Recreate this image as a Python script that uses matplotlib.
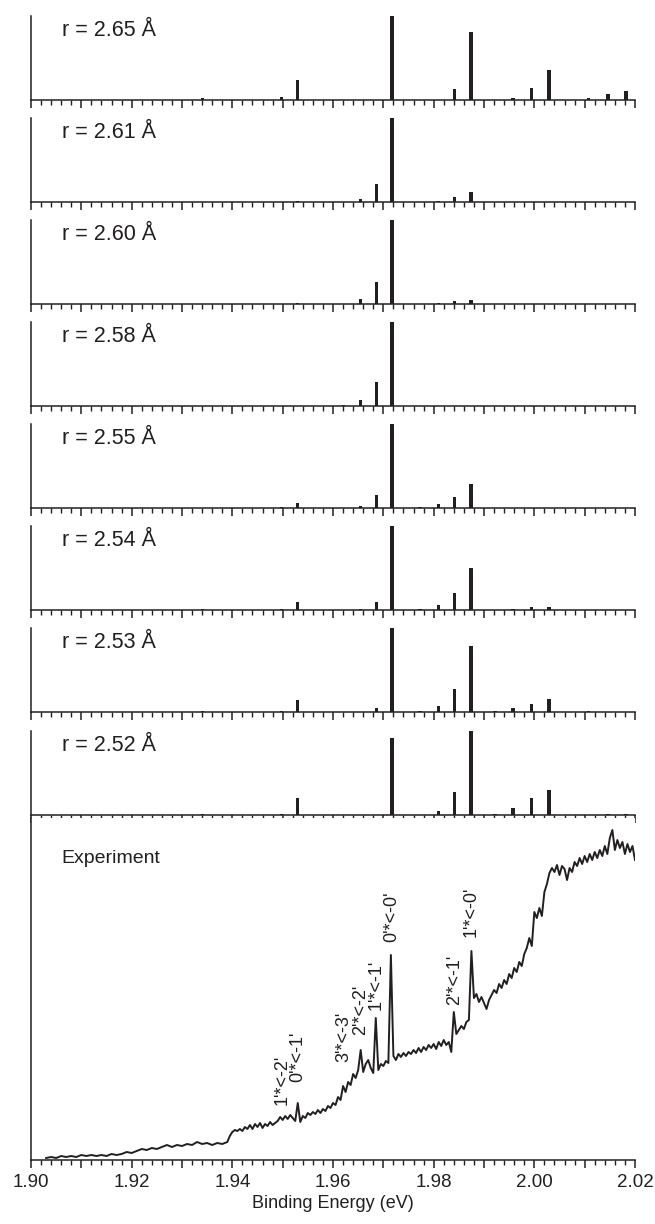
import matplotlib
matplotlib.use("Agg")
import matplotlib.pyplot as plt
from matplotlib.ticker import MultipleLocator, FuncFormatter

plt.rcParams['font.family'] = ['Liberation Sans', 'DejaVu Sans']

INK = '#231f20'

# stick positions (eV), shared by every simulated panel
stick_energy = [1.9341, 1.9498, 1.9529, 1.9621, 1.9655, 1.9686, 1.9717, 1.9773, 1.9810, 1.9841,
                1.9874, 1.9922, 1.9958, 1.9994, 2.0029, 2.0070, 2.0108, 2.0146, 2.0182]

panel_labels = ['r = 2.65 Å', 'r = 2.61 Å', 'r = 2.60 Å', 'r = 2.58 Å',
                'r = 2.55 Å', 'r = 2.54 Å', 'r = 2.53 Å', 'r = 2.52 Å']

h_265 = [0.02, 0.04, 0.24, 0, 0, 0, 1.0, 0, 0, 0.135, 0.81, 0, 0.023, 0.14, 0.355, 0, 0.02, 0.07, 0.11]
h_261 = [0, 0, 0.015, 0, 0.04, 0.21, 1.0, 0, 0.015, 0.06, 0.115, 0, 0, 0, 0, 0, 0, 0, 0]
h_260 = [0, 0, 0.006, 0, 0.065, 0.26, 1.0, 0, 0.01, 0.03, 0.045, 0, 0, 0, 0, 0, 0, 0, 0]
h_258 = [0, 0, 0, 0.01, 0.077, 0.29, 1.0, 0, 0, 0, 0, 0, 0, 0, 0, 0, 0, 0, 0]
h_255 = [0, 0.01, 0.058, 0, 0.02, 0.16, 1.0, 0.008, 0.046, 0.135, 0.29, 0, 0, 0, 0, 0, 0, 0, 0]
h_254 = [0.006, 0.012, 0.09, 0, 0.01, 0.09, 1.0, 0.01, 0.06, 0.2, 0.5, 0, 0.01, 0.035, 0.035, 0, 0, 0, 0]
h_253 = [0.01, 0.015, 0.14, 0, 0, 0.05, 1.0, 0.01, 0.07, 0.27, 0.78, 0.01, 0.05, 0.1, 0.15, 0, 0.008, 0, 0]
h_252 = [0.01, 0.015, 0.2, 0, 0, 0, 0.92, 0, 0.05, 0.27, 1.0, 0.01, 0.08, 0.2, 0.3, 0, 0, 0.01, 0.01]
panel_heights = [h_265, h_261, h_260, h_258, h_255, h_254, h_253, h_252]

# measured photoelectron spectrum (arb. units)
exp_energy = [
    1.9030, 1.9040, 1.9050, 1.9060, 1.9070, 1.9080, 1.9090, 1.9100, 1.9110, 1.9120,
    1.9130, 1.9140, 1.9150, 1.9160, 1.9170, 1.9180, 1.9190, 1.9200, 1.9210, 1.9220,
    1.9230, 1.9240, 1.9250, 1.9260, 1.9270, 1.9280, 1.9290, 1.9300, 1.9310, 1.9320,
    1.9330, 1.9340, 1.9350, 1.9360, 1.9370, 1.9380, 1.9390, 1.9395,
    1.9400, 1.9405, 1.9410, 1.9415, 1.9420, 1.9425, 1.9430, 1.9435, 1.9440, 1.9445,
    1.9450, 1.9455, 1.9460, 1.9465, 1.9470, 1.9475, 1.9480, 1.9485, 1.9490, 1.9495,
    1.9500, 1.9505, 1.9510, 1.9515, 1.9520, 1.9525, 1.9530, 1.9535, 1.9540, 1.9545,
    1.9550, 1.9555, 1.9560, 1.9565, 1.9570, 1.9575, 1.9580, 1.9585, 1.9590, 1.9595,
    1.9600, 1.9605, 1.9610, 1.9615, 1.9620, 1.9625, 1.9630, 1.9635, 1.9640, 1.9645,
    1.9650, 1.9655, 1.9660, 1.9665, 1.9670, 1.9675, 1.9680, 1.9685, 1.9690, 1.9695,
    1.9700, 1.9705, 1.9710, 1.9715, 1.9720, 1.9725, 1.9730, 1.9735, 1.9740, 1.9745,
    1.9750, 1.9755, 1.9760, 1.9765, 1.9770, 1.9775, 1.9780, 1.9785, 1.9790, 1.9795,
    1.9800, 1.9805, 1.9810, 1.9815, 1.9820, 1.9825, 1.9830, 1.9835, 1.9840, 1.9845,
    1.9850, 1.9855, 1.9860, 1.9865, 1.9870, 1.9875, 1.9880, 1.9885, 1.9890, 1.9895,
    1.9900, 1.9905, 1.9910, 1.9915, 1.9920, 1.9925, 1.9930, 1.9935, 1.9940, 1.9945,
    1.9950, 1.9955, 1.9960, 1.9965, 1.9970, 1.9975, 1.9980, 1.9985, 1.9990, 1.9995,
    2.0000, 2.0005, 2.0010, 2.0015, 2.0020, 2.0025, 2.0030, 2.0035, 2.0040, 2.0045,
    2.0050, 2.0055, 2.0060, 2.0065, 2.0070, 2.0075, 2.0080, 2.0085, 2.0090, 2.0095,
    2.0100, 2.0105, 2.0110, 2.0115, 2.0120, 2.0125, 2.0130, 2.0135, 2.0140, 2.0145,
    2.0150, 2.0155, 2.0160, 2.0165, 2.0170, 2.0175, 2.0180, 2.0185, 2.0190, 2.0195,
    2.0200]
exp_signal = [
    2, 3, 2, 4, 3, 4, 3, 5, 4, 5,
    4, 5, 4, 6, 5, 6, 8, 7, 9, 11,
    10, 12, 11, 13, 15, 13, 15, 14, 16, 15,
    18, 16, 17, 15, 17, 16, 18, 24,
    28, 30, 29, 31, 29, 33, 31, 35, 31, 36,
    33, 37, 32, 36, 34, 38, 35, 37, 39, 43,
    40, 44, 41, 45, 42, 39, 57, 38, 44, 42,
    47, 45, 48, 46, 50, 47, 51, 49, 54, 52,
    57, 55, 63, 60, 74, 68, 78, 75, 86, 82,
    90, 110, 88, 96, 100, 92, 87, 142, 90, 96,
    94, 99, 97, 205, 104, 100, 106, 103, 107, 104,
    108, 106, 110, 107, 112, 108, 113, 110, 115, 112,
    116, 111, 118, 114, 120, 115, 118, 108, 148, 126,
    130, 134, 131, 138, 140, 209, 162, 166, 158, 163,
    157, 151, 160, 165, 170, 167, 176, 172, 180, 176,
    186, 182, 192, 188, 198, 194, 206, 212, 222, 214,
    248, 242, 252, 244, 268, 276, 287, 292, 288, 295,
    285, 294, 291, 280, 292, 288, 298, 294, 302, 296,
    304, 298, 306, 300, 308, 302, 310, 304, 314, 306,
    322, 330, 310, 320, 312, 318, 306, 316, 308, 314,
    300]

peak_labels = ["1'*<-2'", "0'*<-1'", "3'*<-3'", "2'*<-2'", "1'*<-1'", "0'*<-0'", "2'*<-1'", "1'*<-0'"]
peak_energy = [1.9498, 1.9529, 1.9621, 1.9655, 1.9686, 1.9717, 1.9841, 1.9874]
peak_label_y = [55, 78, 98, 125, 150, 218, 155, 223]

W, H = 655, 1224
fig = plt.figure(figsize=(W / 100, H / 100), dpi=100)

x0, x1 = 31, 635
left = x0 / W
width = (x1 - x0) / W


def style_axis(ax, show_labels=False):
    ax.set_xlim(1.90, 2.02)
    for s in ['top', 'right']:
        ax.spines[s].set_visible(False)
    for s in ['left', 'bottom']:
        ax.spines[s].set_linewidth(1.1)
        ax.spines[s].set_color(INK)
    ax.set_yticks([])
    ax.xaxis.set_major_locator(MultipleLocator(0.01))
    ax.xaxis.set_minor_locator(MultipleLocator(0.002))
    ax.tick_params(axis='x', which='major', direction='out', length=6, width=1.1, color=INK,
                   labelsize=13.5, labelcolor=INK, pad=4)
    ax.tick_params(axis='x', which='minor', direction='out', length=3.5, width=1.0, color=INK)
    if show_labels:
        ax.xaxis.set_major_formatter(FuncFormatter(
            lambda v, p: f"{v:.2f}" if round(v * 100) % 2 == 0 else ""))
    else:
        ax.tick_params(axis='x', labelbottom=False)


baselines = [100, 202, 304, 406, 508, 610, 712, 815]
panel_h = 84
for b, lab, hts in zip(baselines, panel_labels, panel_heights):
    ax = fig.add_axes([left, 1 - b / H, width, panel_h / H])
    style_axis(ax)
    ax.bar(stick_energy, hts, width=0.0007, color=INK, linewidth=0)
    ax.set_ylim(0, 1.0)
    ax.text(0.051, 0.83, lab, transform=ax.transAxes, fontsize=15.5, color=INK,
            ha='left', va='center')

# experiment panel
exp_top, exp_bot = 818, 1160
ax = fig.add_axes([left, 1 - exp_bot / H, width, (exp_bot - exp_top) / H])
style_axis(ax, show_labels=True)
ax.plot(exp_energy, exp_signal, color=INK, linewidth=1.4)
ax.set_ylim(0, exp_bot - exp_top)
ax.text(0.051, 0.883, 'Experiment', transform=ax.transAxes, fontsize=14, color=INK,
        ha='left', va='center')
for lab, e, y in zip(peak_labels, peak_energy, peak_label_y):
    ax.text(e, y, lab, rotation=90, ha='center', va='bottom', fontsize=13, color=INK)
ax.set_xlabel('Binding Energy (eV)', fontsize=13, color=INK, labelpad=3)

fig.savefig('out.png', dpi=100)
